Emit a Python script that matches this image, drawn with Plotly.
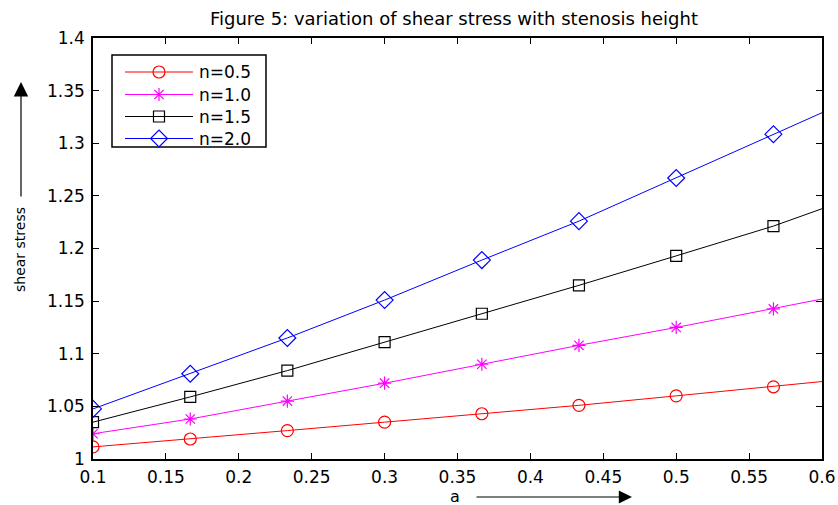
import plotly.graph_objects as go

a_vals = [0.1, 0.1667, 0.2333, 0.3, 0.3667, 0.4333, 0.5, 0.5667, 0.6]
n05 = [1.0115, 1.019, 1.027, 1.035, 1.043, 1.051, 1.060, 1.0686, 1.0736]
n10 = [1.024, 1.038, 1.055, 1.072, 1.090, 1.108, 1.125, 1.1426, 1.152]
n15 = [1.035, 1.059, 1.084, 1.111, 1.138, 1.165, 1.193, 1.2213, 1.2378]
n20 = [1.0476, 1.081, 1.115, 1.151, 1.189, 1.226, 1.267, 1.3086, 1.329]
marker_count = 8
x_ticks = [0.1, 0.15, 0.2, 0.25, 0.3, 0.35, 0.4, 0.45, 0.5, 0.55, 0.6]
x_tick_text = ["0.1", "0.15", "0.2", "0.25", "0.3", "0.35", "0.4", "0.45", "0.5", "0.55", "0.6"]
y_ticks = [1, 1.05, 1.1, 1.15, 1.2, 1.25, 1.3, 1.35, 1.4]
y_tick_text = ["1", "1.05", "1.1", "1.15", "1.2", "1.25", "1.3", "1.35", "1.4"]

series = [
    ("n=0.5", n05, "#ff0000", "circle-open", 12),
    ("n=1.0", n10, "#ff00ff", "asterisk-open", 11),
    ("n=1.5", n15, "#000000", "square-open", 11),
    ("n=2.0", n20, "#0000ff", "diamond-open", 13),
]

FONT = "DejaVu Sans, Liberation Sans, Arial"

# plot area in pixels
L, R, T, B = 93, 822, 38, 459
W, H = 838, 505

fig = go.Figure()
for name, ys, col, sym, sz in series:
    fig.add_trace(go.Scatter(x=a_vals, y=ys, mode="lines", line=dict(color=col, width=1),
                             showlegend=False, hoverinfo="skip"))
    fig.add_trace(go.Scatter(x=a_vals[:marker_count], y=ys[:marker_count], mode="markers", name=name,
                             showlegend=False,
                             marker=dict(symbol=sym, size=sz, color=col, line=dict(color=col, width=1.2))))

axis_common = dict(showgrid=False, zeroline=False, showline=True, linecolor="black", linewidth=1.5,
                   mirror="ticks", ticks="inside", ticklen=6, tickcolor="black", automargin=False,
                   tickfont=dict(family=FONT, size=17, color="black"))

fig.update_layout(
    width=W, height=H,
    margin=dict(l=L, r=W - R, t=T, b=H - B, autoexpand=False),
    paper_bgcolor="white", plot_bgcolor="white",
    title=dict(text="Figure 5: variation of shear stress with stenosis height",
               x=454 / W, xanchor="center", y=1 - 19 / H, yanchor="middle", xref="container", yref="container",
               font=dict(family=FONT, size=18, color="black")),
    xaxis=dict(range=[0.1, 0.6], tickvals=x_ticks, ticktext=x_tick_text, ticklabelstandoff=2, **axis_common),
    yaxis=dict(range=[1, 1.4], tickvals=y_ticks, ticktext=y_tick_text, ticklabelstandoff=3, **axis_common),
    xaxis2=dict(overlaying="x", anchor="y2", range=[L, R], visible=False, automargin=False),
    yaxis2=dict(overlaying="y", anchor="x2", range=[B, T], visible=False, automargin=False),
    showlegend=False,
)

# custom legend (pixel space of the overlay axes)
LX0, LX1, LY0, LY1 = 112, 266, 55, 147
row_y = [72, 94.5, 116.5, 138.5]
fig.add_shape(type="rect", xref="x2", yref="y2", x0=LX0, x1=LX1, y0=LY0, y1=LY1,
              line=dict(color="black", width=1.5), fillcolor="white", layer="below")
for (name, ys, col, sym, sz), ry in zip(series, row_y):
    fig.add_shape(type="line", xref="x2", yref="y2", x0=125, x1=193, y0=ry, y1=ry,
                  line=dict(color=col, width=1), layer="below")
    fig.add_trace(go.Scatter(x=[159], y=[ry], xaxis="x2", yaxis="y2", mode="markers", showlegend=False,
                             hoverinfo="skip",
                             marker=dict(symbol=sym, size=sz, color=col, line=dict(color=col, width=1.2))))
    fig.add_annotation(text=name, xref="x2", yref="y2", x=197, y=ry, xanchor="left", yanchor="middle",
                       showarrow=False, font=dict(family=FONT, size=17, color="black"))

# axis labels with arrows
fig.add_annotation(text="a", xref="paper", yref="paper", x=(455 - L) / (R - L), y=(B - 496) / (B - T),
                   xanchor="center", yanchor="middle",
                   showarrow=False, font=dict(family=FONT, size=16, color="black"))
fig.add_annotation(text="", xref="paper", yref="paper", x=(632 - L) / (R - L), y=(B - 497) / (B - T),
                   showarrow=True, ax=-157, ay=0, arrowhead=2, arrowsize=2.2, arrowwidth=1.2,
                   arrowcolor="black")
fig.add_annotation(text="shear stress", xref="paper", yref="paper", x=(20 - L) / (R - L), y=(B - 250) / (B - T),
                   xanchor="center", yanchor="middle", showarrow=False, textangle=-90,
                   font=dict(family=FONT, size=14, color="black"))
fig.add_annotation(text="", xref="paper", yref="paper", x=(21 - L) / (R - L), y=(B - 82) / (B - T),
                   showarrow=True, ax=0, ay=116, arrowhead=2, arrowsize=2.4, arrowwidth=1.2,
                   arrowcolor="black")

fig.write_html("out.html")
